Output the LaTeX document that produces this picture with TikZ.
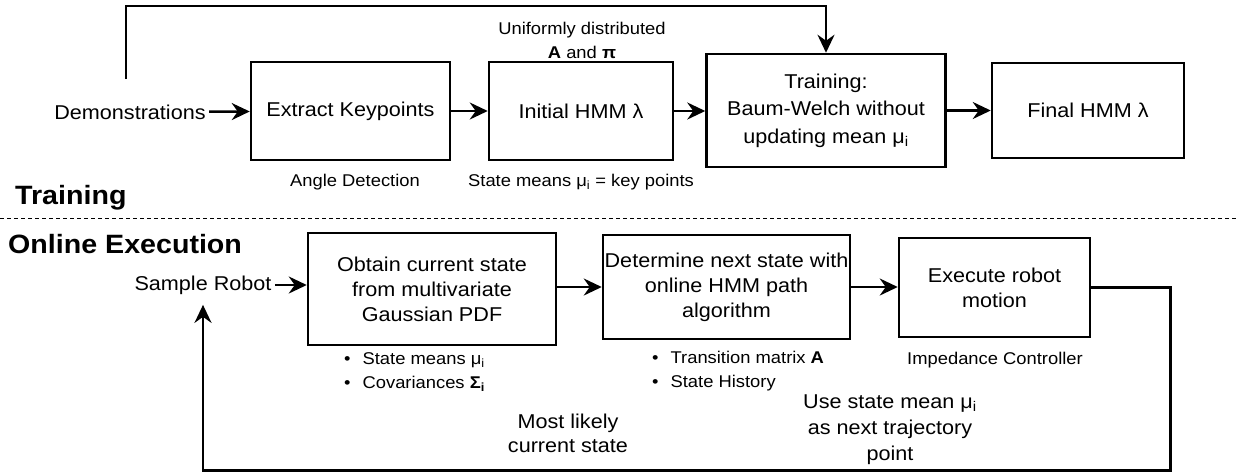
\documentclass[tikz,border=0pt]{standalone}
\usepackage{fontspec}
\setmainfont{Liberation Sans}[FakeStretch=1.08]
\usetikzlibrary{arrows.meta}

\begin{document}
\begin{tikzpicture}[x=1pt, y=-1pt,
    every node/.style={font=\fontsize{20}{25}\selectfont, align=center},
    box/.style={draw, line width=2.5pt, inner xsep=2pt},
    small/.style={font=\fontsize{17}{24}\selectfont},
    head/.style={font=\fontsize{26.5}{30}\selectfont\bfseries, inner sep=0, anchor=base west},
    arr/.style={line width=2.5pt, -{Stealth[length=18pt, width=17pt, inset=6pt]}}]
    \useasboundingbox (0,0) rectangle (1237,475);

    % Training
    \node (demo) at (130,112) {Demonstrations};
    \node[box, minimum width=199, minimum height=98] (extract) at (350.5,111) {Extract Keypoints};
    \node[box, minimum width=184, minimum height=98] (init) at (581,111) {Initial HMM λ};
    \node[box, minimum width=239, minimum height=113, font=\fontsize{20}{27.5}\selectfont] (train) at (826,110.5) {Training:\\Baum-Welch without\\updating mean μ\textsubscript{i}};
    \node[box, minimum width=192, minimum height=95] (final) at (1088,110.5) {Final HMM λ};
    \draw[arr] (demo) -- (extract);
    \draw[arr] (extract) -- (init);
    \draw[arr] (init) -- (init -| train.west);
    \draw[arr] (train) -- (train -| final.west);
    \coordinate (demotop) at (126,79);
    \draw[arr] (demotop) -- ++(0,-73) -| (train.north);

    \node[small] (unif) at (582,40) {Uniformly distributed\\\textbf{A} and \textbf{π}};
    \node[small] (angle) at (355,182) {Angle Detection};
    \node[small] (keys) at (581,182) {State means μ\textsubscript{i} = key points};

    \node[head] (trainlbl) at (15,204) {Training};
    \draw[line width=1pt, dash pattern=on 4pt off 3pt] (0,218) -- (1237,218);
    \node[head] (onlinelbl) at (8,253) {Online Execution};

    % Online execution
    \node (sample) at (203,285) {Sample Robot};
    \node[box, minimum width=248, minimum height=112] (obtain) at (432,289) {Obtain current state\\from multivariate\\Gaussian PDF};
    \node[box, minimum width=247, minimum height=104, inner xsep=0pt] (determine) at (726.5,287) {Determine next state with\\online HMM path\\algorithm};
    \node[box, minimum width=191, minimum height=99] (execute) at (994.5,287.5) {Execute robot\\motion};
    \draw[arr] (sample.east) -- (sample.east -| obtain.west);
    \draw[arr] (obtain.east |- determine.west) -- (determine.west);
    \draw[arr] (determine.east) -- (determine.east -| execute.west);
    \draw[arr, shorten >=7pt] (execute.east) -- ++(79,0) -- ++(0,183) -| (sample.south);

    \node[small, anchor=west, align=left, inner sep=0] (obtainlist) at (344,372)
        {\textbullet\hspace{12pt}State means μ\textsubscript{i}\\\textbullet\hspace{12pt}Covariances \textbf{Σ\textsubscript{i}}};
    \node[small, anchor=west, align=left, inner sep=0] (determinelist) at (652,371)
        {\textbullet\hspace{12pt}Transition matrix \textbf{A}\\\textbullet\hspace{12pt}State History};
    \node[small] (imped) at (995,360) {Impedance Controller};
    \node[font=\fontsize{20}{24}\selectfont] (likely) at (568,433) {Most likely\\current state};
    \node[font=\fontsize{20}{26}\selectfont] (usemean) at (890,430) {Use state mean μ\textsubscript{i}\\as next trajectory\\point};
\end{tikzpicture}
\end{document}
